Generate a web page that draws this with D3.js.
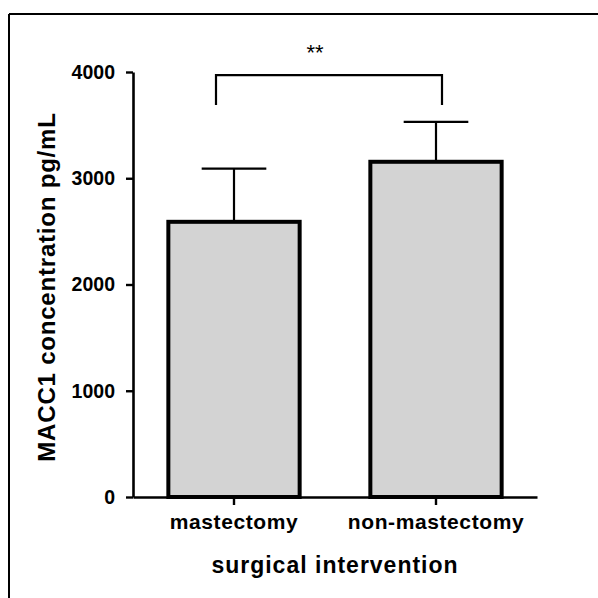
<!DOCTYPE html>
<html>
<head>
<meta charset="utf-8">
<script src="https://cdn.jsdelivr.net/npm/d3@7"></script>
<style>
  html, body { margin: 0; padding: 0; background: #fff; }
  svg { display: block; }
  text { font-family: "Liberation Sans", Arial, sans-serif; fill: #000; }
</style>
</head>
<body>
<svg id="chart" width="598" height="598"></svg>
<script>
// ---- data ----
const categories = ["mastectomy", "non-mastectomy"];
const means = [2590, 3155];
const errorTops = [3090, 3530];
const yTicks = [0, 1000, 2000, 3000, 4000];
const yTitle = "MACC1 concentration pg/mL";
const xTitle = "surgical intervention";
const sigLabel = "**";
const bracketTop = 3970;
const bracketBottom = 3690;

// ---- layout ----
const svg = d3.select("#chart");
const plotLeft = 133, plotRight = 537, plotTop = 72, plotBottom = 497;

const x = d3.scaleBand().domain(categories).range([plotLeft, plotRight]).padding(0);
const y = d3.scaleLinear().domain([0, 4000]).range([plotBottom, plotTop]);
const bw = x.bandwidth();
const barW = bw * 0.65;
const capW = bw * 0.32;
const cx = c => x(c) + bw / 2;

// frame (cropped figure border: top and left)
svg.append("line").attr("x1", 9).attr("x2", 598).attr("y1", 14).attr("y2", 14)
  .attr("stroke", "#000").attr("stroke-width", 2);
svg.append("line").attr("x1", 9).attr("x2", 9).attr("y1", 14).attr("y2", 598)
  .attr("stroke", "#000").attr("stroke-width", 2);

// error bars
categories.forEach((c, i) => {
  svg.append("line").attr("x1", cx(c)).attr("x2", cx(c))
    .attr("y1", y(means[i])).attr("y2", y(errorTops[i]))
    .attr("stroke", "#000").attr("stroke-width", 2.2);
  svg.append("line").attr("x1", cx(c) - capW / 2).attr("x2", cx(c) + capW / 2)
    .attr("y1", y(errorTops[i])).attr("y2", y(errorTops[i]))
    .attr("stroke", "#000").attr("stroke-width", 2.2);
});

// bars
svg.selectAll("rect.bar").data(categories).enter().append("rect")
  .attr("class", "bar")
  .attr("x", c => cx(c) - barW / 2)
  .attr("width", barW)
  .attr("y", (c, i) => y(means[i]))
  .attr("height", (c, i) => y(0) - y(means[i]))
  .attr("fill", "#d3d3d3")
  .attr("stroke", "#000")
  .attr("stroke-width", 4);

// y axis
const yAxis = svg.append("g").attr("transform", `translate(${plotLeft},0)`)
  .call(d3.axisLeft(y).tickValues(yTicks).tickSize(7).tickSizeOuter(0).tickPadding(11).tickFormat(d3.format("d")));
yAxis.select(".domain").attr("stroke", "#000").attr("stroke-width", 2.6);
yAxis.selectAll(".tick line").attr("stroke", "#000").attr("stroke-width", 2.4);
yAxis.selectAll(".tick text").attr("font-size", 19.5).attr("font-weight", "bold")
  .attr("font-family", "Liberation Sans, Arial, sans-serif").attr("fill", "#000");

// x axis
const xAxis = svg.append("g").attr("transform", `translate(0,${plotBottom})`)
  .call(d3.axisBottom(x).tickSize(8).tickSizeOuter(0).tickPadding(11));
xAxis.select(".domain").attr("stroke", "#000").attr("stroke-width", 2.6);
xAxis.selectAll(".tick text").attr("dy", "0.62em");
xAxis.selectAll(".tick line").attr("stroke", "#000").attr("stroke-width", 2.4);
xAxis.selectAll(".tick text").attr("font-size", 21).attr("font-weight", "bold")
  .attr("letter-spacing", "0.6px")
  .attr("font-family", "Liberation Sans, Arial, sans-serif").attr("fill", "#000");

// x title
svg.append("text").attr("x", (plotLeft + plotRight) / 2).attr("y", 573)
  .attr("text-anchor", "middle").attr("font-size", 23).attr("font-weight", "bold")
  .attr("letter-spacing", "1px")
  .text(xTitle);

// y title
svg.append("text").attr("transform", `translate(55,287) rotate(-90)`)
  .attr("text-anchor", "middle").attr("font-size", 24).attr("font-weight", "bold")
  .attr("letter-spacing", "0.8px")
  .text(yTitle);

// significance bracket
const bx1 = cx(categories[0]) - 18, bx2 = cx(categories[1]) + 6;
svg.append("path")
  .attr("d", `M${bx1},${y(bracketBottom)}V${y(bracketTop)}H${bx2}V${y(bracketBottom)}`)
  .attr("fill", "none").attr("stroke", "#000").attr("stroke-width", 2.2);
svg.append("text").attr("x", (bx1 + bx2) / 2 - 14).attr("y", 60)
  .attr("text-anchor", "middle").attr("font-size", 22)
  .text(sigLabel);
</script>
</body>
</html>
